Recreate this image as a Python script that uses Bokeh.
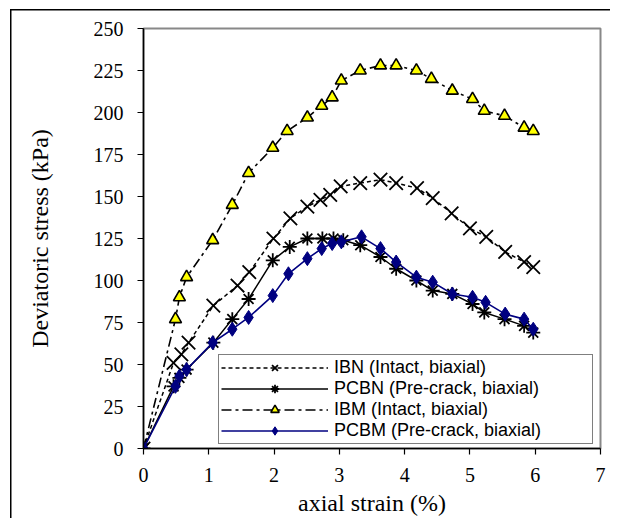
from bokeh.plotting import figure
from bokeh.models import Range1d, FixedTicker, Legend, LegendItem
from bokeh.embed import file_html
from bokeh.resources import INLINE

# ---------------- data ----------------
ibn_x = [0, 0.46, 0.58, 0.69, 1.07, 1.44, 1.62, 1.99, 2.25, 2.51, 2.71, 2.86, 3.02, 3.32, 3.63, 3.87, 4.19, 4.43, 4.72, 5.00, 5.25, 5.54, 5.83, 5.97]
ibn_y = [0, 51, 56, 63, 85, 97, 105, 125, 137, 144, 148, 151, 156, 158, 160, 158, 155, 149, 140, 131, 126, 117, 111, 108]

pcbn_x = [0, 0.46, 0.55, 0.66, 1.07, 1.36, 1.61, 1.98, 2.24, 2.51, 2.74, 2.91, 3.06, 3.32, 3.63, 3.87, 4.18, 4.43, 4.73, 5.04, 5.22, 5.53, 5.83, 5.97]
pcbn_y = [0, 37, 42, 47, 63, 77, 89, 112, 120, 125, 125, 125, 124, 121, 114, 107, 100, 94, 92, 86, 81, 77, 73, 69]

ibm_x = [0, 0.49, 0.55, 0.66, 1.06, 1.36, 1.61, 1.98, 2.20, 2.51, 2.73, 2.89, 3.03, 3.32, 3.63, 3.87, 4.18, 4.41, 4.73, 5.04, 5.22, 5.53, 5.83, 5.97]
ibm_y = [0, 77, 90, 102, 124, 145, 164, 179, 189, 197, 204, 209, 219, 225, 228, 228, 225, 220, 213, 208, 201, 198, 191, 189]

pcbm_x = [0, 0.49, 0.55, 0.66, 1.06, 1.36, 1.61, 1.98, 2.22, 2.51, 2.73, 2.89, 3.03, 3.34, 3.63, 3.87, 4.18, 4.43, 4.73, 5.04, 5.24, 5.54, 5.83, 5.97]
pcbm_y = [0, 37, 43, 47, 63, 71, 78, 91, 104, 113, 119, 122, 123, 126, 119, 111, 102, 99, 92, 90, 87, 80, 77, 71]

labels = ["IBN (Intact, biaxial)", "PCBN (Pre-crack, biaxial)",
          "IBM (Intact, biaxial)", "PCBM (Pre-crack, biaxial)"]
x_ticks = [0, 1, 2, 3, 4, 5, 6, 7]
y_ticks = [0, 25, 50, 75, 100, 125, 150, 175, 200, 225, 250]

W, H = 610, 518

# ---------------- figure ----------------
p = figure(width=W, height=H, output_backend="svg", toolbar_location=None,
           x_range=Range1d(0, 7), y_range=Range1d(0, 250),
           min_border_left=143, min_border_right=10,
           min_border_top=28, min_border_bottom=70)
p.background_fill_color = "white"
p.border_fill_color = None
# thin black frame line along the top and left of the picture
p.styles = {"background": "linear-gradient(#000,#000) 10px 9px / 100% 1.5px no-repeat, "
                          "linear-gradient(#000,#000) 10px 9px / 1.5px 100% no-repeat, #ffffff"}
p.outline_line_color = "#888888"
p.outline_line_width = 2
p.xgrid.visible = False
p.ygrid.visible = False

for ax in (p.xaxis[0], p.yaxis[0]):
    ax.axis_line_color = "black"
    ax.axis_line_width = 1.5
    ax.major_tick_line_color = "black"
    ax.major_tick_line_width = 1.2
    ax.major_tick_out = 6
    ax.major_tick_in = 0
    ax.minor_tick_line_color = None
    ax.major_label_text_font = "Liberation Serif"
    ax.major_label_text_font_size = "20px"
    ax.major_label_text_color = "black"
    ax.axis_label_text_font = "Liberation Serif"
    ax.axis_label_text_font_size = "24px"
    ax.axis_label_text_font_style = "normal"
    ax.axis_label_text_color = "black"

p.xaxis.ticker = FixedTicker(ticks=x_ticks)
p.yaxis.ticker = FixedTicker(ticks=y_ticks)
p.xaxis.axis_label = "axial strain (%)"
p.yaxis.axis_label = "Deviatoric stress (kPa)"
p.yaxis.major_label_standoff = 14
p.xaxis.major_label_standoff = 13
p.yaxis.axis_label_standoff = 38
p.xaxis.axis_label_standoff = 5

# ---------------- series ----------------
l1 = p.line(ibn_x, ibn_y, line_color="black", line_width=1.5, line_dash="4 3")
m1 = p.scatter(ibn_x, ibn_y, marker="x", size=19, line_color="black", line_width=1.8)

l2 = p.line(pcbn_x, pcbn_y, line_color="black", line_width=1.5)
m2 = p.scatter(pcbn_x, pcbn_y, marker="asterisk", size=14, line_color="black", line_width=1.8)

l3 = p.line(ibm_x, ibm_y, line_color="black", line_width=1.6, line_dash="10 4 3 4")
m3 = p.scatter(ibm_x, ibm_y, marker="triangle", size=12, fill_color="#FFFF00",
               line_color="black", line_width=1.6)

l4 = p.line(pcbm_x, pcbm_y, line_color="#000080", line_width=1.6)
m4 = p.scatter(pcbm_x, pcbm_y, marker="diamond", size=14, fill_color="#000080",
               line_color="#000080", line_width=1)

legend = Legend(items=[
    LegendItem(label=labels[0], renderers=[l1, m1]),
    LegendItem(label=labels[1], renderers=[l2, m2]),
    LegendItem(label=labels[2], renderers=[l3, m3]),
    LegendItem(label=labels[3], renderers=[l4, m4]),
], location=(75, 4))
legend.label_text_font = "Liberation Sans"
legend.label_text_font_size = "18px"
legend.label_text_color = "black"
legend.border_line_color = "black"
legend.border_line_width = 1
legend.background_fill_color = "white"
legend.background_fill_alpha = 1
legend.padding = 2
legend.spacing = 0
legend.margin = 0
legend.glyph_width = 107
legend.glyph_height = 21
legend.label_height = 21
legend.label_standoff = 6
legend.label_width = 256
p.add_layout(legend, "center")

open("out.html", "w").write(file_html(p, INLINE))
